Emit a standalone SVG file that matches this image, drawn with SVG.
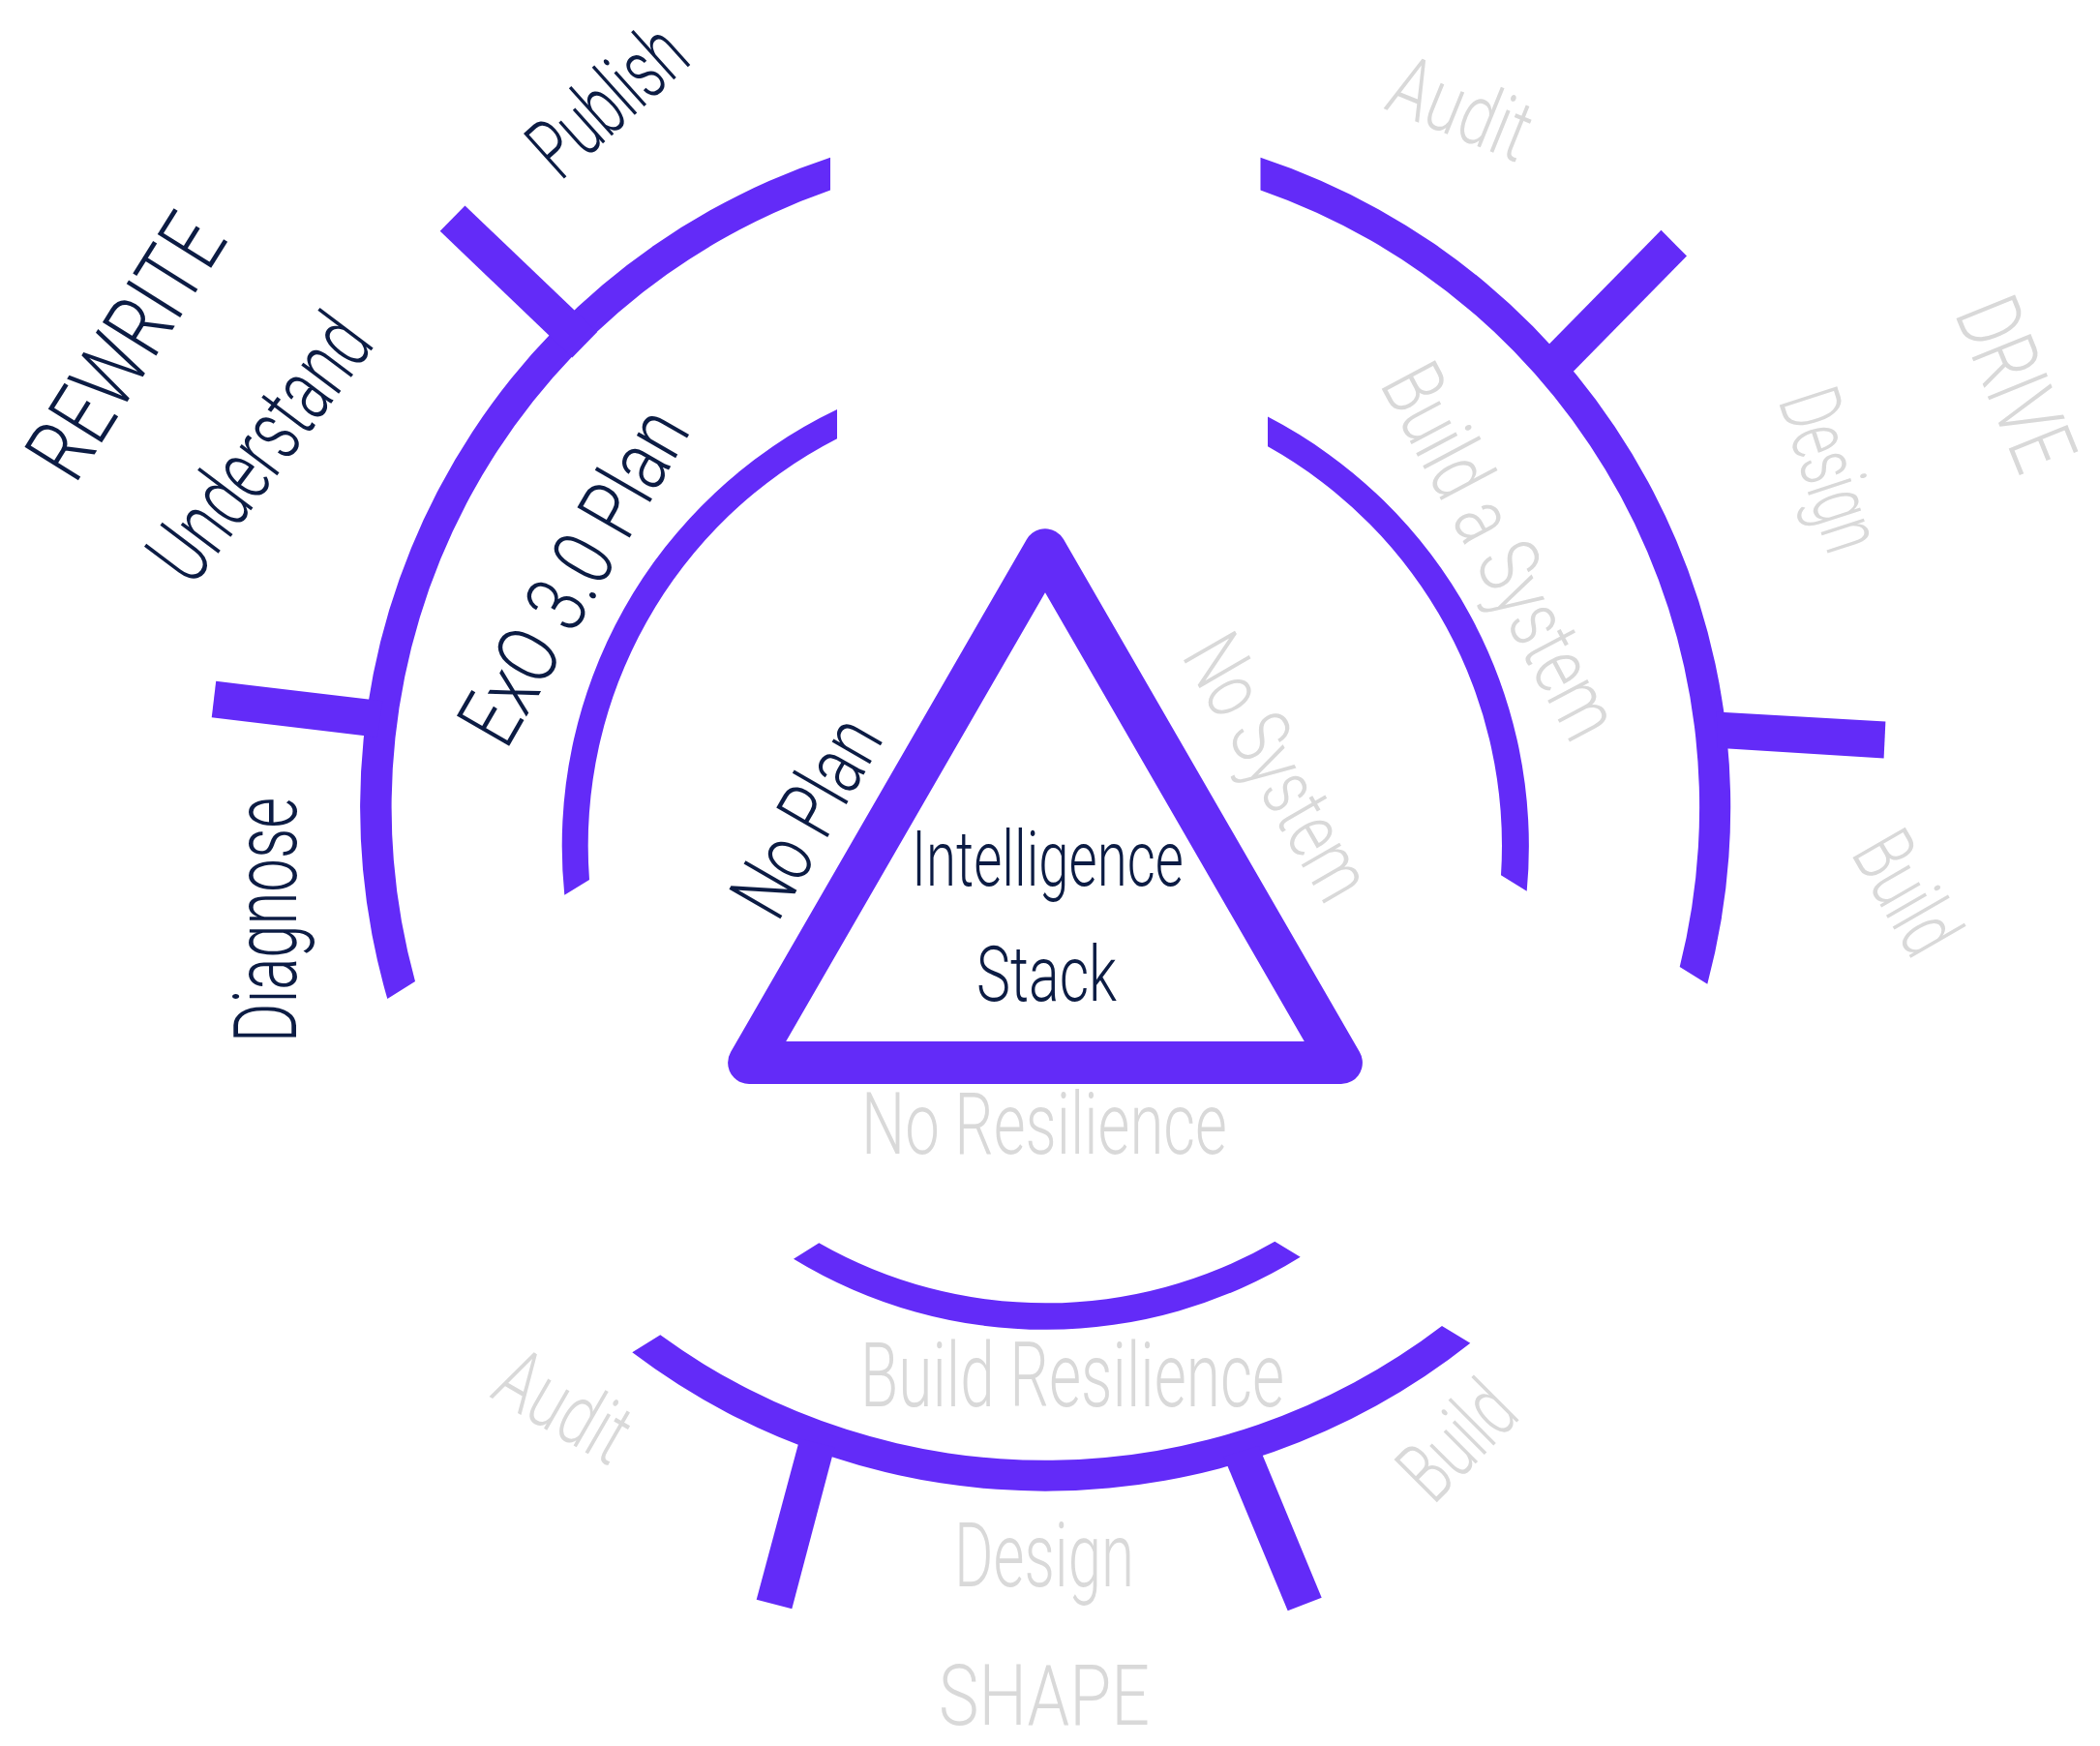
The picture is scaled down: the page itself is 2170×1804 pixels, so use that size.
<svg xmlns="http://www.w3.org/2000/svg" width="2170" height="1804" viewBox="0 0 2170 1804">
<style>
.arc{fill:#632bf8}
.tick{fill:#632bf8}
.tri{fill:none;stroke:#632bf8;stroke-width:44;stroke-linejoin:round}
.dk{fill:#0c1c44;font-family:Roboto,'Open Sans','Liberation Sans',sans-serif;font-weight:300;text-anchor:middle}
.gr{fill:#d9d9d9;font-family:Roboto,'Open Sans','Liberation Sans',sans-serif;font-weight:300;text-anchor:middle}
</style>
<rect width="2170" height="1804" fill="#ffffff"/>
<g id="connectors">
<path class="arc" d="M 400.3 1032 A 707 707 0 0 1 858 162.8 L 858 196.6 A 675 675 0 0 0 429 1014 Z"/>
<path class="arc" d="M 1302.5 162.8 A 707 707 0 0 1 1764.3 1016.7 L 1735.7 999 A 675 675 0 0 0 1302.5 196.6 Z"/>
<path class="arc" d="M 653.3 1397.3 A 707 707 0 0 0 1519.3 1387.7 L 1490 1370 A 675 675 0 0 1 682.3 1379.3 Z"/>
<path class="arc" d="M 583.3 924.7 A 499.5 499.5 0 0 1 865 423.1 L 865 453.2 A 472.5 472.5 0 0 0 609 909 Z"/>
<path class="arc" d="M 1310 430.6 A 499.5 499.5 0 0 1 1577.7 920.7 L 1551 904.3 A 472.5 472.5 0 0 0 1310 461.3 Z"/>
<path class="arc" d="M 820 1300.7 A 499.5 499.5 0 0 0 1343.7 1298.7 L 1317.3 1282.7 A 472.5 472.5 0 0 1 846.3 1284.3 Z"/>
<polygon class="tick" points="454.7,238.8 480.5,212.5 617.1,342.9 591.3,369.6"/>
<polygon class="tick" points="223.2,703.7 218.75,741.2 389.9,761.8 395.3,724.3"/>
<polygon class="tick" points="1716.5,237.8 1743,264.6 1621.9,387.7 1594.9,361.6"/>
<polygon class="tick" points="1948.4,745.5 1946.6,783.6 1775,772.9 1773.8,735.4"/>
<polygon class="tick" points="826.4,1486.4 862.4,1495.4 818.3,1662.3 781.7,1652.7"/>
<polygon class="tick" points="1264.4,1504.9 1300.7,1493.9 1365.7,1650.7 1330.7,1664.3"/>
</g>
<g id="triangle">
<polygon class="tri" points="1080,568.2 1385.9,1098 774.1,1098"/>
<text class="dk" transform="translate(1082.5,915) scale(0.704,1)" font-size="80" textLength="399" lengthAdjust="spacingAndGlyphs">Intelligence</text>
<text class="dk" transform="translate(1081.5,1034) scale(0.736,1)" font-size="80" textLength="197" lengthAdjust="spacingAndGlyphs">Stack</text>
</g>
<g id="rewrite">
<text class="dk" transform="translate(129,357) rotate(-58) scale(0.794,1)" y="33" font-size="92" textLength="377.8" lengthAdjust="spacingAndGlyphs">REWRITE</text>
<text class="dk" transform="translate(267,462) rotate(-53) scale(0.683,1)" y="33" font-size="92" textLength="462.7" lengthAdjust="spacingAndGlyphs">Understand</text>
<text class="dk" transform="translate(627,103) rotate(-42) scale(0.65,1)" y="31" font-size="88" textLength="284.6" lengthAdjust="spacingAndGlyphs">Publish</text>
<text class="dk" transform="translate(273.5,950.5) rotate(-90) scale(0.686,1)" y="32" font-size="90" textLength="368.8" lengthAdjust="spacingAndGlyphs">Diagnose</text>
<text class="dk" transform="translate(592,595) rotate(-60) scale(0.784,1)" y="31" font-size="88" textLength="488.5" lengthAdjust="spacingAndGlyphs">ExO 3.0 Plan</text>
<text class="dk" transform="translate(832,843) rotate(-60) scale(0.744,1)" y="31" font-size="86" textLength="297" lengthAdjust="spacingAndGlyphs">No Plan</text>
</g>
<g id="drive">
<text class="gr" transform="translate(1510,111) rotate(22) scale(0.743,1)" y="31" font-size="88" textLength="201.9" lengthAdjust="spacingAndGlyphs">Audit</text>
<text class="gr" transform="translate(1893,485) rotate(72) scale(0.644,1)" y="31" font-size="88" textLength="264" lengthAdjust="spacingAndGlyphs">Design</text>
<text class="gr" transform="translate(1971,922) rotate(60) scale(0.677,1)" y="31" font-size="88" textLength="192" lengthAdjust="spacingAndGlyphs">Build</text>
<text class="gr" transform="translate(2084,396) rotate(68) scale(0.723,1)" y="33" font-size="92" textLength="253.1" lengthAdjust="spacingAndGlyphs">DRIVE</text>
<text class="gr" transform="translate(1322,792) rotate(60) scale(0.734,1)" y="31" font-size="86" textLength="408.7" lengthAdjust="spacingAndGlyphs">No System</text>
<text class="gr" transform="translate(1552,569) rotate(62) scale(0.744,1)" y="31" font-size="88" textLength="569.9" lengthAdjust="spacingAndGlyphs">Build a System</text>
</g>
<g id="shape">
<text class="gr" transform="translate(1079,1192) scale(0.716,1)" font-size="89" textLength="527.9" lengthAdjust="spacingAndGlyphs">No Resilience</text>
<text class="gr" transform="translate(1108,1453) scale(0.686,1)" font-size="93" textLength="638.5" lengthAdjust="spacingAndGlyphs">Build Resilience</text>
<text class="gr" transform="translate(1079,1639) scale(0.667,1)" font-size="93" textLength="278.9" lengthAdjust="spacingAndGlyphs">Design</text>
<text class="gr" transform="translate(1079,1782) scale(0.788,1)" font-size="88" textLength="276.6" lengthAdjust="spacingAndGlyphs">SHAPE</text>
<text class="gr" transform="translate(583,1452) rotate(30) scale(0.718,1)" y="31" font-size="88" textLength="201.9" lengthAdjust="spacingAndGlyphs">Audit</text>
<text class="gr" transform="translate(1505,1488) rotate(-45) scale(0.677,1)" y="31" font-size="88" textLength="192" lengthAdjust="spacingAndGlyphs">Build</text>
</g>
</svg>
